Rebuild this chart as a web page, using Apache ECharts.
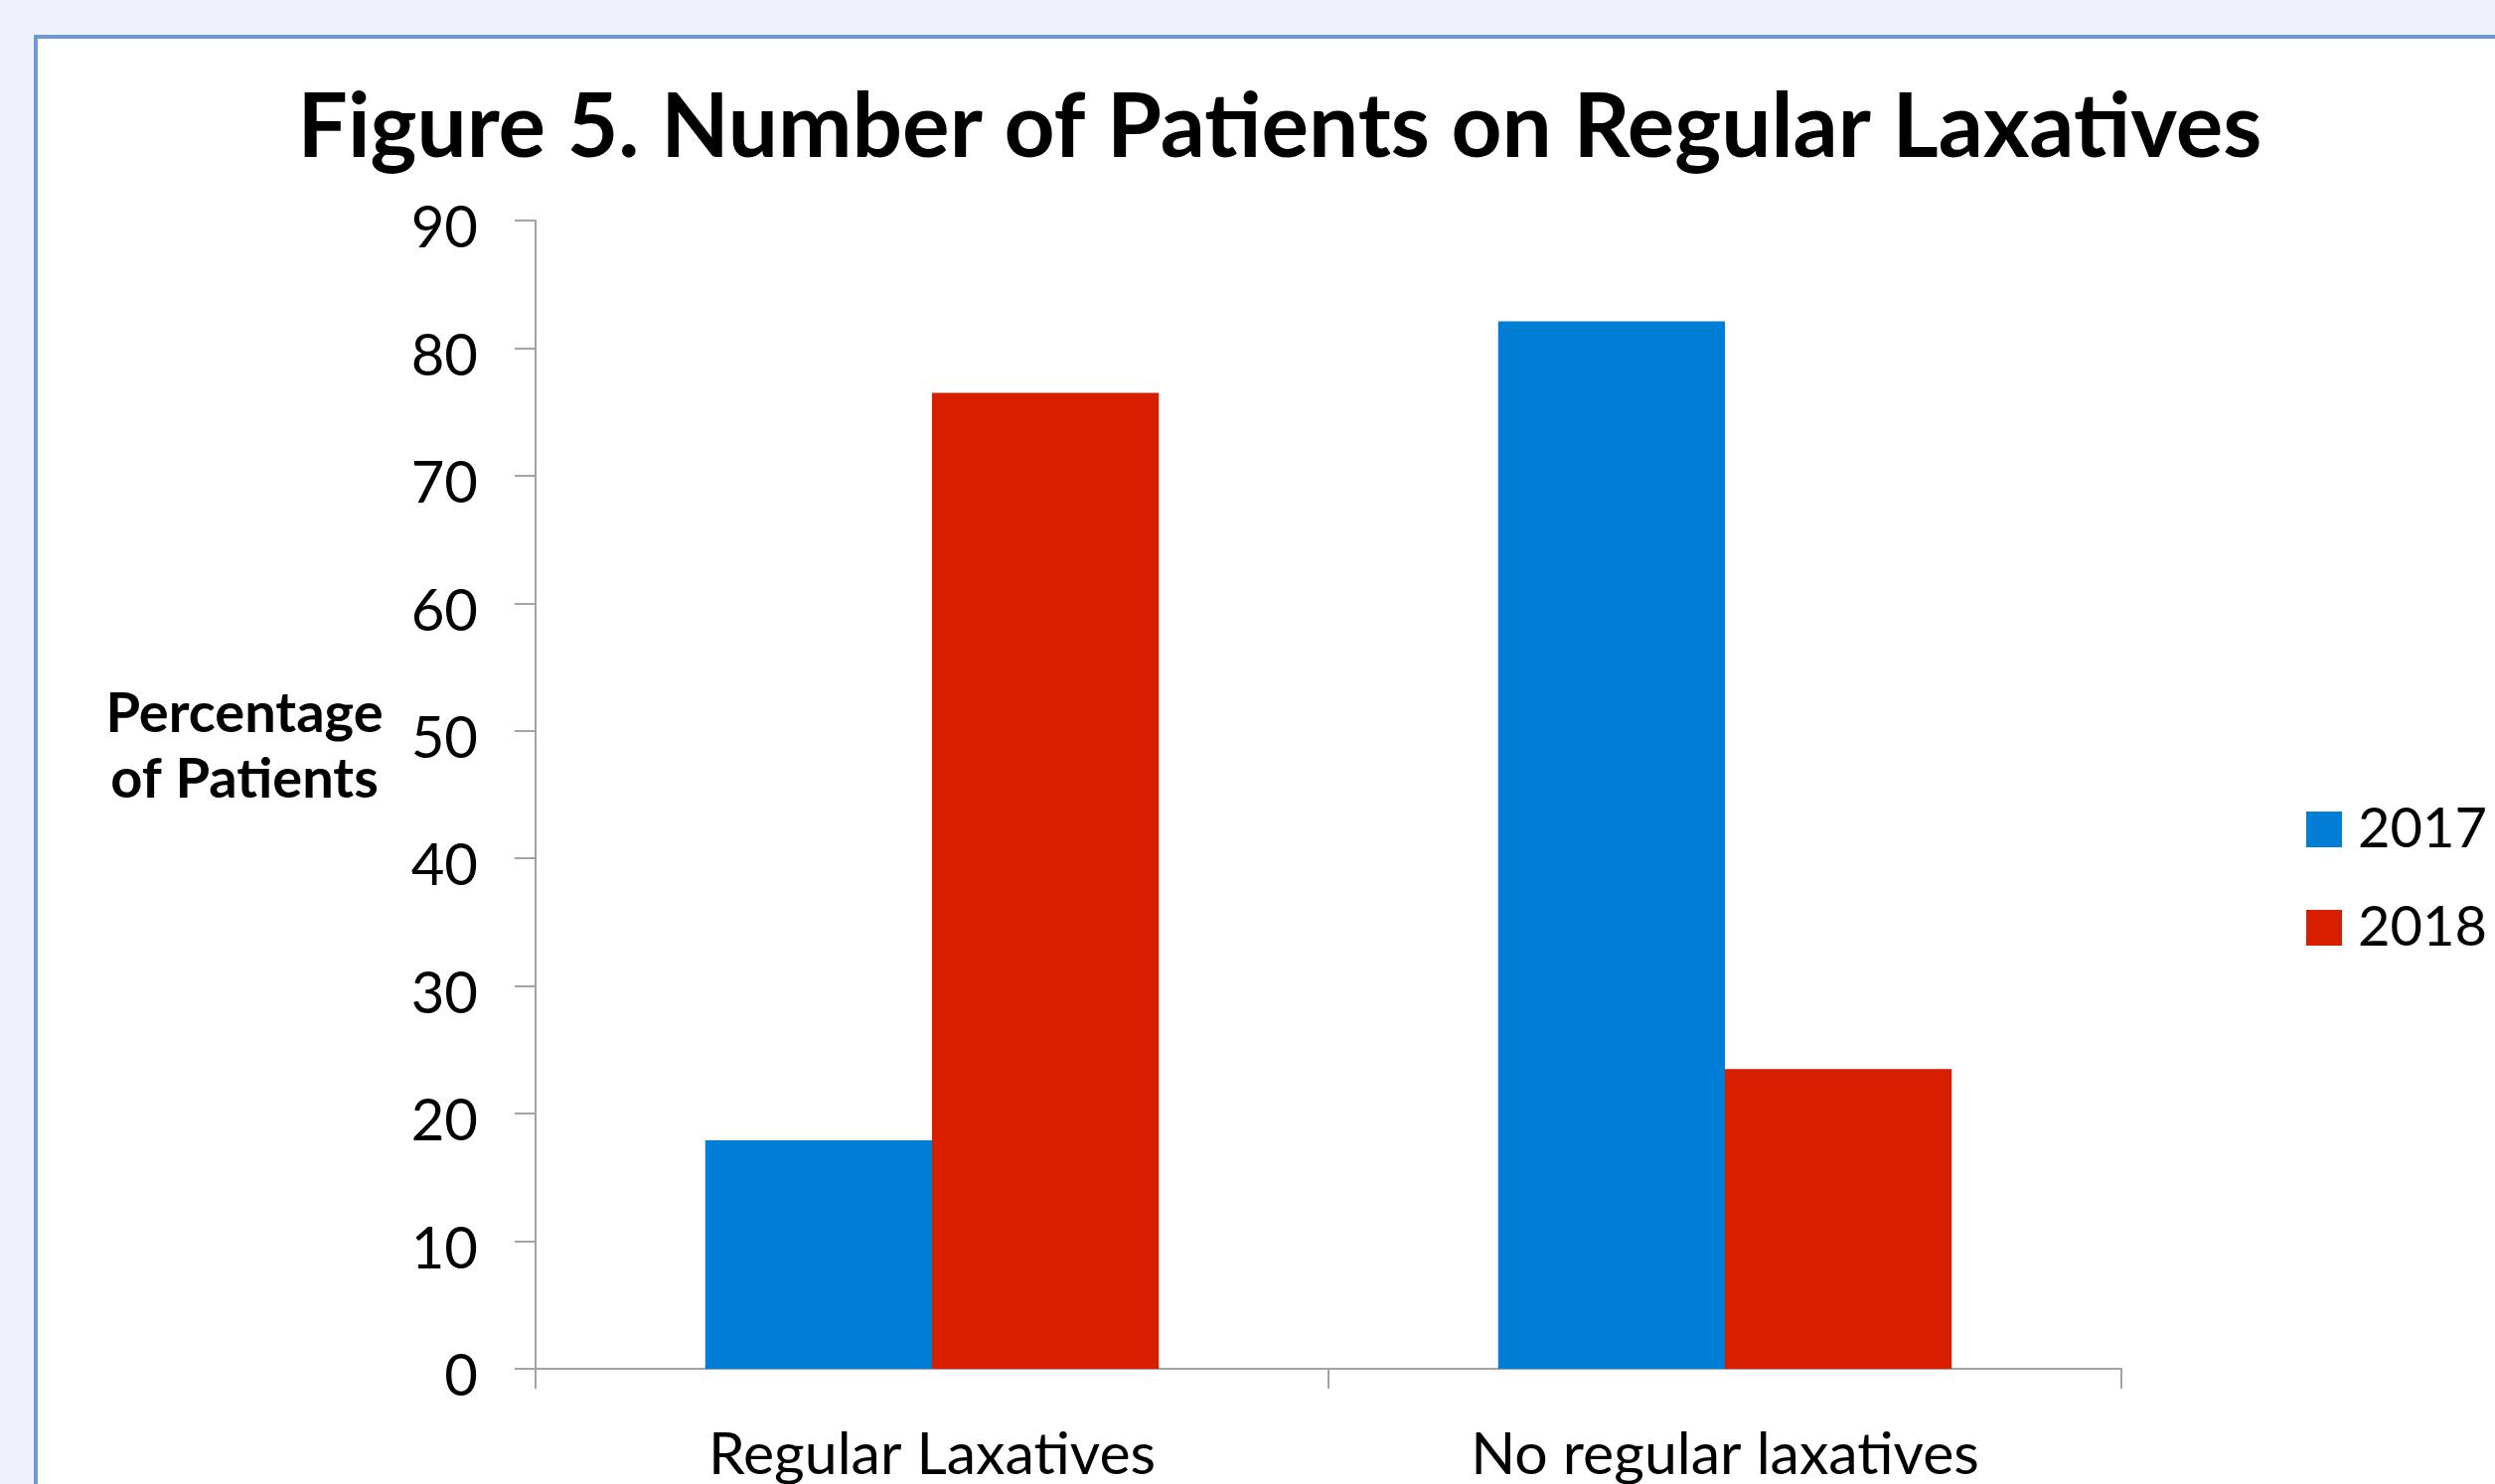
<!DOCTYPE html>
<html>
<head>
<meta charset="utf-8">
<title>Figure 5</title>
<script src="https://cdn.jsdelivr.net/npm/echarts@6/dist/echarts.min.js"></script>
<style>
  html, body { margin: 0; padding: 0; background: #eff3f9; }
  #chart { width: 2511px; height: 1494px; }
</style>
</head>
<body>
<div id="chart"></div>
<script>
const categories = ['Regular Laxatives', 'No regular laxatives']
const seriesNames = ['2017', '2018']
const values2017 = [17.9, 82.1]
const values2018 = [76.5, 23.5]
const yTicks = { min: 0, max: 90, interval: 10 }

const titleText = 'Figure 5. Number of Patients on Regular Laxatives'
const yAxisTitle = 'Percentage\nof Patients'

const FONT = 'Lato'
const AXIS_GREY = '#a3a3a3'

const chart = echarts.init(document.getElementById('chart'), null, { renderer: 'canvas' })

const option = {
  backgroundColor: '#eff3f9',
  color: ['#007ed6', '#d71f00'],
  animation: false,
  textStyle: { fontFamily: FONT, color: '#000' },
  graphic: [
    {
      // white panel with blue frame, runs off the right/bottom edges
      type: 'rect',
      z: -10,
      shape: { x: 36, y: 37, width: 2600, height: 1600 },
      style: { fill: '#ffffff', stroke: '#6b9bd2', lineWidth: 4 },
    },
    {
      type: 'text',
      x: 1288,
      y: 129,
      style: {
        text: titleText,
        fontFamily: FONT,
        fontWeight: 'bold',
        fontSize: 89,
        fill: '#000',
        textAlign: 'center',
        textVerticalAlign: 'middle',
      },
    },
    {
      type: 'text',
      x: 246,
      y: 752,
      style: {
        text: yAxisTitle,
        fontFamily: FONT,
        fontWeight: 'bold',
        fontSize: 56,
        lineHeight: 66,
        fill: '#000',
        textAlign: 'center',
        textVerticalAlign: 'middle',
      },
    },
  ],
  legend: {
    data: seriesNames,
    orient: 'vertical',
    left: 2316,
    top: 789,
    itemWidth: 36,
    itemHeight: 36,
    itemGap: 17,
    icon: 'rect',
    textStyle: {
      fontFamily: FONT,
      fontSize: 56,
      color: '#000',
      lineHeight: 60,
      padding: [22, 0, 0, 11],
    },
  },
  grid: {
    left: 539,
    right: 376,
    top: 222,
    bottom: 115,
    containLabel: false,
  },
  xAxis: {
    type: 'category',
    data: categories,
    axisLine: { lineStyle: { color: AXIS_GREY, width: 2 } },
    axisTick: { show: true, length: 20, lineStyle: { color: AXIS_GREY, width: 2 } },
    axisLabel: {
      fontFamily: FONT,
      fontSize: 59,
      color: '#000',
      margin: 57,
      verticalAlign: 'top',
    },
    splitLine: { show: false },
  },
  yAxis: {
    type: 'value',
    min: yTicks.min,
    max: yTicks.max,
    interval: yTicks.interval,
    axisLine: { show: true, lineStyle: { color: AXIS_GREY, width: 2 } },
    axisTick: { show: true, length: 21, lineStyle: { color: AXIS_GREY, width: 2 } },
    axisLabel: {
      fontFamily: FONT,
      fontSize: 58,
      color: '#000',
      margin: 58,
      verticalAlign: 'top',
      lineHeight: 17,
    },
    splitLine: { show: false },
  },
  series: [
    {
      name: seriesNames[0],
      type: 'bar',
      data: values2017,
      barGap: '0%',
      barCategoryGap: '42.8%',
    },
    {
      name: seriesNames[1],
      type: 'bar',
      data: values2018,
      barGap: '0%',
      barCategoryGap: '42.8%',
    },
  ],
}

chart.setOption(option)
window.addEventListener('resize', () => chart.resize())
</script>
</body>
</html>
